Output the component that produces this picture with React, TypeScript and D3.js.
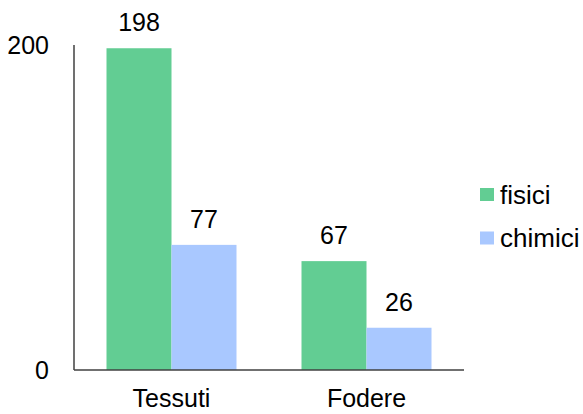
import React from "react";
import * as d3 from "d3";

const categories = ["Tessuti", "Fodere"];
const seriesNames = ["fisici", "chimici"];
const fisici = [198, 67];
const chimici = [77, 26];
const yTicks = [0, 200];
const colors = ["#62CD93", "#A9C8FF"];

export default function App() {
  const W = 583, H = 414;
  const left = 74, right = 464, top = 45, bottom = 370;
  const x = d3.scaleBand().domain(categories).range([left, right]).paddingInner(1 / 3).paddingOuter(1 / 6);
  const x1 = d3.scaleBand().domain(seriesNames).range([0, x.bandwidth()]);
  const y = d3.scaleLinear().domain([0, 200]).range([bottom, top]);
  const series = [fisici, chimici];
  const font = "Arial, 'Liberation Sans', sans-serif";
  const fs = 25;
  const fsText = 26;
  return (
    <svg width={W} height={H} style={{ position: "absolute", left: 0, top: 0 }} fontFamily={font}>
      <rect width={W} height={H} fill="#fff" />
      {categories.map((c, i) =>
        seriesNames.map((s, j) => {
          const v = series[j][i];
          const bx = (x(c) as number) + (x1(s) as number);
          return (
            <g key={c + s}>
              <rect x={bx} y={y(v)} width={x1.bandwidth()} height={y(0) - y(v)} fill={colors[j]} />
              <text x={bx + x1.bandwidth() / 2} y={y(v) - 17} textAnchor="middle" fontSize={fs} fill="#000">
                {v}
              </text>
            </g>
          );
        })
      )}
      <line x1={left} x2={left} y1={top} y2={bottom} stroke="#404040" strokeWidth={1.5} />
      <line x1={left} x2={right} y1={bottom} y2={bottom} stroke="#404040" strokeWidth={1.5} />
      {yTicks.map((t) => (
        <text key={t} x={49} y={y(t)} dy="0.35em" textAnchor="end" fontSize={fs} fill="#000">
          {t}
        </text>
      ))}
      {categories.map((c) => (
        <text key={c} x={(x(c) as number) + x.bandwidth() / 2} y={407} textAnchor="middle" fontSize={fs} fill="#000">
          {c}
        </text>
      ))}
      {seriesNames.map((s, j) => (
        <g key={s} transform={`translate(480, ${188 + j * 43.5})`}>
          <rect width={14} height={13} fill={colors[j]} />
          <text x={20} y={6.5} dy="0.35em" fontSize={fsText} fill="#000">
            {s}
          </text>
        </g>
      ))}
    </svg>
  );
}
